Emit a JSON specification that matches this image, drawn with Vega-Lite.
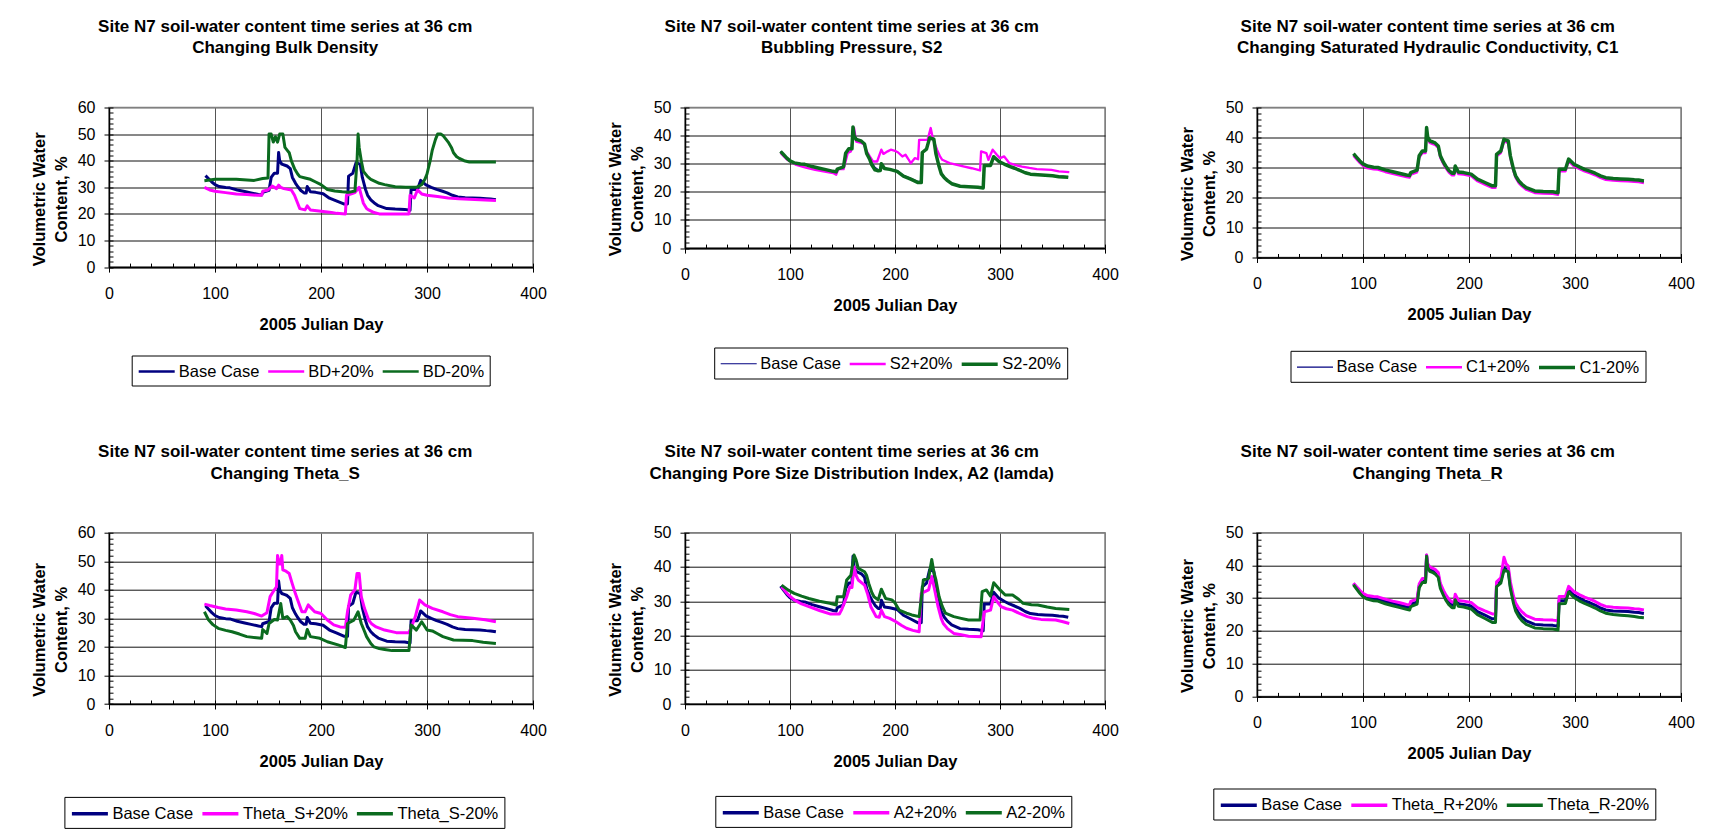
{
"$schema": "https://vega.github.io/schema/vega-lite/v6.json",
"autosize": {"type": "pad"},
"padding": {"left": 30, "top": 16.5, "right": 5, "bottom": 5},
"background": "white",
"datasets": {
"base": [
{"s":"Base Case","d":91,"v":34.4},{"s":"Base Case","d":94,"v":33.2},{"s":"Base Case","d":97,"v":32},{"s":"Base Case","d":100,"v":31},{"s":"Base Case","d":104,"v":30.3},{"s":"Base Case","d":110,"v":29.9},{"s":"Base Case","d":114,"v":29.8},{"s":"Base Case","d":121,"v":29},{"s":"Base Case","d":128,"v":28.4},{"s":"Base Case","d":134,"v":27.9},{"s":"Base Case","d":141,"v":27.3},{"s":"Base Case","d":144,"v":27.1},{"s":"Base Case","d":145,"v":28.1},{"s":"Base Case","d":151,"v":28.9},{"s":"Base Case","d":153,"v":33.7},{"s":"Base Case","d":156,"v":35.3},{"s":"Base Case","d":159,"v":35.3},{"s":"Base Case","d":160,"v":43.1},{"s":"Base Case","d":161,"v":40},{"s":"Base Case","d":163,"v":38.7},{"s":"Base Case","d":166,"v":38.3},{"s":"Base Case","d":168,"v":38},{"s":"Base Case","d":171,"v":37},{"s":"Base Case","d":173,"v":33.7},{"s":"Base Case","d":176,"v":31.5},{"s":"Base Case","d":178,"v":30.3},{"s":"Base Case","d":181,"v":28.8},{"s":"Base Case","d":184,"v":27.9},{"s":"Base Case","d":186,"v":27.9},{"s":"Base Case","d":187,"v":30.3},{"s":"Base Case","d":190,"v":28.3},{"s":"Base Case","d":195,"v":28.1},{"s":"Base Case","d":202,"v":27.6},{"s":"Base Case","d":208,"v":25.9},{"s":"Base Case","d":215,"v":24.8},{"s":"Base Case","d":222,"v":23.7},{"s":"Base Case","d":225,"v":23.7},{"s":"Base Case","d":226,"v":34.2},{"s":"Base Case","d":230,"v":35.3},{"s":"Base Case","d":233,"v":39.2},{"s":"Base Case","d":237,"v":38.7},{"s":"Base Case","d":239,"v":33.7},{"s":"Base Case","d":242,"v":29.2},{"s":"Base Case","d":244,"v":27},{"s":"Base Case","d":247,"v":25.3},{"s":"Base Case","d":250,"v":24.2},{"s":"Base Case","d":254,"v":23.1},{"s":"Base Case","d":262,"v":22},{"s":"Base Case","d":270,"v":21.8},{"s":"Base Case","d":279,"v":21.7},{"s":"Base Case","d":284,"v":21.4},{"s":"Base Case","d":285,"v":29.2},{"s":"Base Case","d":291,"v":29.2},{"s":"Base Case","d":294,"v":32.6},{"s":"Base Case","d":299,"v":30.9},{"s":"Base Case","d":304,"v":30},{"s":"Base Case","d":309,"v":29.2},{"s":"Base Case","d":314,"v":28.6},{"s":"Base Case","d":319,"v":27.9},{"s":"Base Case","d":324,"v":27},{"s":"Base Case","d":329,"v":26.4},{"s":"Base Case","d":336,"v":26.1},{"s":"Base Case","d":343,"v":26},{"s":"Base Case","d":350,"v":25.9},{"s":"Base Case","d":356,"v":25.7},{"s":"Base Case","d":360,"v":25.6},{"s":"Base Case","d":365,"v":25.3}
],
"p1": [
{"s":"BD+20%","d":90,"v":30},{"s":"BD+20%","d":95,"v":29},{"s":"BD+20%","d":100,"v":28.5},{"s":"BD+20%","d":110,"v":28},{"s":"BD+20%","d":120,"v":27.5},{"s":"BD+20%","d":130,"v":27.3},{"s":"BD+20%","d":140,"v":27},{"s":"BD+20%","d":144,"v":27},{"s":"BD+20%","d":145,"v":28.5},{"s":"BD+20%","d":150,"v":29},{"s":"BD+20%","d":154,"v":30.5},{"s":"BD+20%","d":158,"v":29.5},{"s":"BD+20%","d":160,"v":30.8},{"s":"BD+20%","d":162,"v":30},{"s":"BD+20%","d":165,"v":29.5},{"s":"BD+20%","d":172,"v":29},{"s":"BD+20%","d":175,"v":27},{"s":"BD+20%","d":178,"v":24},{"s":"BD+20%","d":180,"v":22},{"s":"BD+20%","d":185,"v":21.5},{"s":"BD+20%","d":187,"v":23},{"s":"BD+20%","d":190,"v":21.5},{"s":"BD+20%","d":200,"v":21},{"s":"BD+20%","d":210,"v":20.5},{"s":"BD+20%","d":215,"v":20.2},{"s":"BD+20%","d":223,"v":20},{"s":"BD+20%","d":224,"v":27},{"s":"BD+20%","d":228,"v":27.5},{"s":"BD+20%","d":232,"v":28},{"s":"BD+20%","d":236,"v":30},{"s":"BD+20%","d":238,"v":27},{"s":"BD+20%","d":240,"v":24},{"s":"BD+20%","d":243,"v":22},{"s":"BD+20%","d":245,"v":21.5},{"s":"BD+20%","d":250,"v":20.5},{"s":"BD+20%","d":255,"v":20},{"s":"BD+20%","d":270,"v":20},{"s":"BD+20%","d":283,"v":20},{"s":"BD+20%","d":284,"v":27},{"s":"BD+20%","d":288,"v":26},{"s":"BD+20%","d":291,"v":29},{"s":"BD+20%","d":295,"v":27.5},{"s":"BD+20%","d":300,"v":27},{"s":"BD+20%","d":310,"v":26.5},{"s":"BD+20%","d":320,"v":26},{"s":"BD+20%","d":330,"v":25.7},{"s":"BD+20%","d":340,"v":25.5},{"s":"BD+20%","d":350,"v":25.3},{"s":"BD+20%","d":365,"v":25},
{"s":"BD-20%","d":90,"v":32.5},{"s":"BD-20%","d":100,"v":33},{"s":"BD-20%","d":120,"v":33},{"s":"BD-20%","d":137,"v":32.6},{"s":"BD-20%","d":145,"v":33.3},{"s":"BD-20%","d":150,"v":33.5},{"s":"BD-20%","d":151,"v":50},{"s":"BD-20%","d":153,"v":50},{"s":"BD-20%","d":155,"v":47},{"s":"BD-20%","d":157,"v":49},{"s":"BD-20%","d":159,"v":47},{"s":"BD-20%","d":161,"v":50},{"s":"BD-20%","d":164,"v":50},{"s":"BD-20%","d":166,"v":45},{"s":"BD-20%","d":168,"v":44},{"s":"BD-20%","d":170,"v":43},{"s":"BD-20%","d":172,"v":40},{"s":"BD-20%","d":175,"v":37},{"s":"BD-20%","d":178,"v":35},{"s":"BD-20%","d":180,"v":34},{"s":"BD-20%","d":185,"v":33.5},{"s":"BD-20%","d":190,"v":33},{"s":"BD-20%","d":195,"v":32},{"s":"BD-20%","d":200,"v":31},{"s":"BD-20%","d":206,"v":29.2},{"s":"BD-20%","d":213,"v":28.6},{"s":"BD-20%","d":220,"v":28.3},{"s":"BD-20%","d":226,"v":28.1},{"s":"BD-20%","d":232,"v":28.6},{"s":"BD-20%","d":234,"v":40},{"s":"BD-20%","d":235,"v":50},{"s":"BD-20%","d":236,"v":45},{"s":"BD-20%","d":238,"v":40},{"s":"BD-20%","d":240,"v":36},{"s":"BD-20%","d":244,"v":34},{"s":"BD-20%","d":247,"v":33},{"s":"BD-20%","d":255,"v":31.5},{"s":"BD-20%","d":260,"v":31},{"s":"BD-20%","d":270,"v":30.2},{"s":"BD-20%","d":280,"v":30},{"s":"BD-20%","d":290,"v":30},{"s":"BD-20%","d":295,"v":31},{"s":"BD-20%","d":298,"v":33},{"s":"BD-20%","d":300,"v":35},{"s":"BD-20%","d":303,"v":40},{"s":"BD-20%","d":305,"v":44},{"s":"BD-20%","d":308,"v":48},{"s":"BD-20%","d":310,"v":50},{"s":"BD-20%","d":313,"v":50},{"s":"BD-20%","d":315,"v":49.5},{"s":"BD-20%","d":318,"v":48},{"s":"BD-20%","d":320,"v":47},{"s":"BD-20%","d":323,"v":45},{"s":"BD-20%","d":325,"v":43},{"s":"BD-20%","d":328,"v":41.5},{"s":"BD-20%","d":330,"v":41},{"s":"BD-20%","d":335,"v":40},{"s":"BD-20%","d":340,"v":39.5},{"s":"BD-20%","d":350,"v":39.5},{"s":"BD-20%","d":365,"v":39.5}
],
"p2": [
{"s":"S2+20%","d":91,"v":33.8},{"s":"S2+20%","d":97,"v":31.5},{"s":"S2+20%","d":106,"v":29.6},{"s":"S2+20%","d":115,"v":28.6},{"s":"S2+20%","d":124,"v":27.8},{"s":"S2+20%","d":133,"v":27.2},{"s":"S2+20%","d":141,"v":26.7},{"s":"S2+20%","d":144,"v":26.1},{"s":"S2+20%","d":146,"v":28.1},{"s":"S2+20%","d":151,"v":28.1},{"s":"S2+20%","d":155,"v":33.8},{"s":"S2+20%","d":158,"v":34.4},{"s":"S2+20%","d":161,"v":42.7},{"s":"S2+20%","d":163,"v":37.9},{"s":"S2+20%","d":167,"v":37.5},{"s":"S2+20%","d":170,"v":37.1},{"s":"S2+20%","d":173,"v":34.5},{"s":"S2+20%","d":176,"v":32.6},{"s":"S2+20%","d":179,"v":30.8},{"s":"S2+20%","d":183,"v":30.8},{"s":"S2+20%","d":187,"v":35},{"s":"S2+20%","d":189,"v":33.5},{"s":"S2+20%","d":193,"v":34.4},{"s":"S2+20%","d":196,"v":35},{"s":"S2+20%","d":200,"v":34.6},{"s":"S2+20%","d":203,"v":34},{"s":"S2+20%","d":207,"v":32.6},{"s":"S2+20%","d":210,"v":33.2},{"s":"S2+20%","d":213,"v":31.5},{"s":"S2+20%","d":215,"v":30.2},{"s":"S2+20%","d":219,"v":32},{"s":"S2+20%","d":222,"v":31.6},{"s":"S2+20%","d":223,"v":38.5},{"s":"S2+20%","d":231,"v":38.5},{"s":"S2+20%","d":234,"v":42.7},{"s":"S2+20%","d":236,"v":39.1},{"s":"S2+20%","d":238,"v":37},{"s":"S2+20%","d":240,"v":35},{"s":"S2+20%","d":243,"v":32.5},{"s":"S2+20%","d":245,"v":31.4},{"s":"S2+20%","d":252,"v":30.2},{"s":"S2+20%","d":259,"v":29.6},{"s":"S2+20%","d":266,"v":29},{"s":"S2+20%","d":273,"v":28.4},{"s":"S2+20%","d":281,"v":27.6},{"s":"S2+20%","d":282,"v":34.4},{"s":"S2+20%","d":287,"v":33.8},{"s":"S2+20%","d":289,"v":31.4},{"s":"S2+20%","d":293,"v":35},{"s":"S2+20%","d":297,"v":33.2},{"s":"S2+20%","d":300,"v":32},{"s":"S2+20%","d":304,"v":32.6},{"s":"S2+20%","d":309,"v":30.2},{"s":"S2+20%","d":315,"v":29.5},{"s":"S2+20%","d":321,"v":29},{"s":"S2+20%","d":328,"v":28.5},{"s":"S2+20%","d":335,"v":28.1},{"s":"S2+20%","d":349,"v":27.8},{"s":"S2+20%","d":356,"v":27.3},{"s":"S2+20%","d":366,"v":27},
{"s":"S2-20%","d":91,"v":34.4},{"s":"S2-20%","d":94,"v":33.2},{"s":"S2-20%","d":97,"v":32},{"s":"S2-20%","d":100,"v":31},{"s":"S2-20%","d":104,"v":30.3},{"s":"S2-20%","d":110,"v":29.9},{"s":"S2-20%","d":114,"v":29.8},{"s":"S2-20%","d":121,"v":29},{"s":"S2-20%","d":128,"v":28.4},{"s":"S2-20%","d":134,"v":27.9},{"s":"S2-20%","d":141,"v":27.3},{"s":"S2-20%","d":144,"v":27.1},{"s":"S2-20%","d":145,"v":28.1},{"s":"S2-20%","d":151,"v":28.9},{"s":"S2-20%","d":153,"v":33.7},{"s":"S2-20%","d":156,"v":35.3},{"s":"S2-20%","d":159,"v":35.3},{"s":"S2-20%","d":160,"v":43.1},{"s":"S2-20%","d":161,"v":40},{"s":"S2-20%","d":163,"v":38.7},{"s":"S2-20%","d":166,"v":38.3},{"s":"S2-20%","d":168,"v":38},{"s":"S2-20%","d":171,"v":37},{"s":"S2-20%","d":173,"v":33.7},{"s":"S2-20%","d":176,"v":31.5},{"s":"S2-20%","d":178,"v":29.5},{"s":"S2-20%","d":181,"v":27.8},{"s":"S2-20%","d":184,"v":27.5},{"s":"S2-20%","d":186,"v":27.6},{"s":"S2-20%","d":187,"v":30},{"s":"S2-20%","d":190,"v":28.3},{"s":"S2-20%","d":195,"v":28},{"s":"S2-20%","d":202,"v":27.3},{"s":"S2-20%","d":208,"v":25.6},{"s":"S2-20%","d":215,"v":24.5},{"s":"S2-20%","d":222,"v":23.3},{"s":"S2-20%","d":225,"v":23.3},{"s":"S2-20%","d":226,"v":34},{"s":"S2-20%","d":230,"v":35.2},{"s":"S2-20%","d":233,"v":39.2},{"s":"S2-20%","d":237,"v":38.7},{"s":"S2-20%","d":239,"v":33.5},{"s":"S2-20%","d":242,"v":29},{"s":"S2-20%","d":244,"v":26.5},{"s":"S2-20%","d":247,"v":25},{"s":"S2-20%","d":250,"v":24},{"s":"S2-20%","d":254,"v":22.9},{"s":"S2-20%","d":262,"v":22},{"s":"S2-20%","d":270,"v":21.8},{"s":"S2-20%","d":279,"v":21.6},{"s":"S2-20%","d":284,"v":21.4},{"s":"S2-20%","d":285,"v":29.4},{"s":"S2-20%","d":291,"v":29.4},{"s":"S2-20%","d":294,"v":32.5},{"s":"S2-20%","d":299,"v":30.8},{"s":"S2-20%","d":304,"v":29.9},{"s":"S2-20%","d":309,"v":29.1},{"s":"S2-20%","d":314,"v":28.4},{"s":"S2-20%","d":319,"v":27.6},{"s":"S2-20%","d":324,"v":26.8},{"s":"S2-20%","d":329,"v":26.3},{"s":"S2-20%","d":336,"v":26.1},{"s":"S2-20%","d":343,"v":25.9},{"s":"S2-20%","d":350,"v":25.7},{"s":"S2-20%","d":356,"v":25.4},{"s":"S2-20%","d":360,"v":25.3},{"s":"S2-20%","d":365,"v":25.2}
],
"p3": [
{"s":"C1+20%","d":91,"v":33.9},{"s":"C1+20%","d":94,"v":32.7},{"s":"C1+20%","d":97,"v":31.5},{"s":"C1+20%","d":100,"v":30.5},{"s":"C1+20%","d":104,"v":29.8},{"s":"C1+20%","d":110,"v":29.4},{"s":"C1+20%","d":114,"v":29.3},{"s":"C1+20%","d":121,"v":28.5},{"s":"C1+20%","d":128,"v":27.9},{"s":"C1+20%","d":134,"v":27.4},{"s":"C1+20%","d":141,"v":26.8},{"s":"C1+20%","d":144,"v":26.6},{"s":"C1+20%","d":145,"v":27.6},{"s":"C1+20%","d":151,"v":28.4},{"s":"C1+20%","d":153,"v":33.2},{"s":"C1+20%","d":156,"v":34.8},{"s":"C1+20%","d":159,"v":34.8},{"s":"C1+20%","d":160,"v":42.6},{"s":"C1+20%","d":161,"v":39.5},{"s":"C1+20%","d":163,"v":38.2},{"s":"C1+20%","d":166,"v":37.8},{"s":"C1+20%","d":168,"v":37.5},{"s":"C1+20%","d":171,"v":36.5},{"s":"C1+20%","d":173,"v":33.2},{"s":"C1+20%","d":176,"v":31},{"s":"C1+20%","d":178,"v":29.8},{"s":"C1+20%","d":181,"v":28.3},{"s":"C1+20%","d":184,"v":27.4},{"s":"C1+20%","d":186,"v":27.4},{"s":"C1+20%","d":187,"v":29.8},{"s":"C1+20%","d":190,"v":27.8},{"s":"C1+20%","d":195,"v":27.6},{"s":"C1+20%","d":202,"v":27.1},{"s":"C1+20%","d":208,"v":25.4},{"s":"C1+20%","d":215,"v":24.3},{"s":"C1+20%","d":222,"v":23.2},{"s":"C1+20%","d":225,"v":23.2},{"s":"C1+20%","d":226,"v":33.7},{"s":"C1+20%","d":230,"v":34.8},{"s":"C1+20%","d":233,"v":38.7},{"s":"C1+20%","d":237,"v":38.2},{"s":"C1+20%","d":239,"v":33.2},{"s":"C1+20%","d":242,"v":28.7},{"s":"C1+20%","d":244,"v":26.5},{"s":"C1+20%","d":247,"v":24.8},{"s":"C1+20%","d":250,"v":23.7},{"s":"C1+20%","d":254,"v":22.6},{"s":"C1+20%","d":262,"v":21.5},{"s":"C1+20%","d":270,"v":21.3},{"s":"C1+20%","d":279,"v":21.2},{"s":"C1+20%","d":284,"v":20.9},{"s":"C1+20%","d":285,"v":28.7},{"s":"C1+20%","d":291,"v":28.7},{"s":"C1+20%","d":294,"v":32.1},{"s":"C1+20%","d":299,"v":30.4},{"s":"C1+20%","d":304,"v":29.5},{"s":"C1+20%","d":309,"v":28.7},{"s":"C1+20%","d":314,"v":28.1},{"s":"C1+20%","d":319,"v":27.4},{"s":"C1+20%","d":324,"v":26.5},{"s":"C1+20%","d":329,"v":25.9},{"s":"C1+20%","d":336,"v":25.6},{"s":"C1+20%","d":343,"v":25.5},{"s":"C1+20%","d":350,"v":25.4},{"s":"C1+20%","d":356,"v":25.2},{"s":"C1+20%","d":360,"v":25.1},{"s":"C1+20%","d":365,"v":24.8},
{"s":"C1-20%","d":91,"v":34.6},{"s":"C1-20%","d":94,"v":33.4},{"s":"C1-20%","d":97,"v":32.2},{"s":"C1-20%","d":100,"v":31.2},{"s":"C1-20%","d":104,"v":30.5},{"s":"C1-20%","d":110,"v":30.1},{"s":"C1-20%","d":114,"v":30},{"s":"C1-20%","d":121,"v":29.2},{"s":"C1-20%","d":128,"v":28.6},{"s":"C1-20%","d":134,"v":28.1},{"s":"C1-20%","d":141,"v":27.5},{"s":"C1-20%","d":144,"v":27.3},{"s":"C1-20%","d":145,"v":28.3},{"s":"C1-20%","d":151,"v":29.1},{"s":"C1-20%","d":153,"v":33.9},{"s":"C1-20%","d":156,"v":35.5},{"s":"C1-20%","d":159,"v":35.5},{"s":"C1-20%","d":160,"v":43.3},{"s":"C1-20%","d":161,"v":40.2},{"s":"C1-20%","d":163,"v":38.9},{"s":"C1-20%","d":166,"v":38.5},{"s":"C1-20%","d":168,"v":38.2},{"s":"C1-20%","d":171,"v":37.2},{"s":"C1-20%","d":173,"v":33.9},{"s":"C1-20%","d":176,"v":31.7},{"s":"C1-20%","d":178,"v":30.5},{"s":"C1-20%","d":181,"v":29},{"s":"C1-20%","d":184,"v":28.1},{"s":"C1-20%","d":186,"v":28.1},{"s":"C1-20%","d":187,"v":30.5},{"s":"C1-20%","d":190,"v":28.5},{"s":"C1-20%","d":195,"v":28.3},{"s":"C1-20%","d":202,"v":27.8},{"s":"C1-20%","d":208,"v":26.1},{"s":"C1-20%","d":215,"v":25},{"s":"C1-20%","d":222,"v":23.9},{"s":"C1-20%","d":225,"v":23.9},{"s":"C1-20%","d":226,"v":34.4},{"s":"C1-20%","d":230,"v":35.5},{"s":"C1-20%","d":233,"v":39.4},{"s":"C1-20%","d":237,"v":38.9},{"s":"C1-20%","d":239,"v":33.9},{"s":"C1-20%","d":242,"v":29.4},{"s":"C1-20%","d":244,"v":27.2},{"s":"C1-20%","d":247,"v":25.5},{"s":"C1-20%","d":250,"v":24.4},{"s":"C1-20%","d":254,"v":23.3},{"s":"C1-20%","d":262,"v":22.2},{"s":"C1-20%","d":270,"v":22},{"s":"C1-20%","d":279,"v":21.9},{"s":"C1-20%","d":284,"v":21.6},{"s":"C1-20%","d":285,"v":29.4},{"s":"C1-20%","d":291,"v":29.4},{"s":"C1-20%","d":294,"v":32.8},{"s":"C1-20%","d":299,"v":31.1},{"s":"C1-20%","d":304,"v":30.2},{"s":"C1-20%","d":309,"v":29.4},{"s":"C1-20%","d":314,"v":28.8},{"s":"C1-20%","d":319,"v":28.1},{"s":"C1-20%","d":324,"v":27.2},{"s":"C1-20%","d":329,"v":26.6},{"s":"C1-20%","d":336,"v":26.3},{"s":"C1-20%","d":343,"v":26.2},{"s":"C1-20%","d":350,"v":26.1},{"s":"C1-20%","d":356,"v":25.9},{"s":"C1-20%","d":360,"v":25.8},{"s":"C1-20%","d":365,"v":25.5}
],
"p4": [
{"s":"Theta_S+20%","d":90,"v":35},{"s":"Theta_S+20%","d":95,"v":34.5},{"s":"Theta_S+20%","d":103,"v":33.8},{"s":"Theta_S+20%","d":110,"v":33.3},{"s":"Theta_S+20%","d":120,"v":32.9},{"s":"Theta_S+20%","d":130,"v":32.3},{"s":"Theta_S+20%","d":137,"v":31.7},{"s":"Theta_S+20%","d":144,"v":30.8},{"s":"Theta_S+20%","d":149,"v":32},{"s":"Theta_S+20%","d":152,"v":37.6},{"s":"Theta_S+20%","d":156,"v":40},{"s":"Theta_S+20%","d":158,"v":41},{"s":"Theta_S+20%","d":159,"v":52},{"s":"Theta_S+20%","d":161,"v":49},{"s":"Theta_S+20%","d":162,"v":49},{"s":"Theta_S+20%","d":163,"v":52},{"s":"Theta_S+20%","d":164,"v":47},{"s":"Theta_S+20%","d":167,"v":46.5},{"s":"Theta_S+20%","d":170,"v":45.7},{"s":"Theta_S+20%","d":173,"v":42},{"s":"Theta_S+20%","d":176,"v":38.5},{"s":"Theta_S+20%","d":178,"v":36.4},{"s":"Theta_S+20%","d":182,"v":32.3},{"s":"Theta_S+20%","d":185,"v":32.3},{"s":"Theta_S+20%","d":188,"v":34.7},{"s":"Theta_S+20%","d":191,"v":33.5},{"s":"Theta_S+20%","d":194,"v":32.3},{"s":"Theta_S+20%","d":200,"v":31.7},{"s":"Theta_S+20%","d":206,"v":29.4},{"s":"Theta_S+20%","d":212,"v":27.7},{"s":"Theta_S+20%","d":218,"v":27},{"s":"Theta_S+20%","d":223,"v":26.9},{"s":"Theta_S+20%","d":225,"v":32.3},{"s":"Theta_S+20%","d":228,"v":38.2},{"s":"Theta_S+20%","d":232,"v":40},{"s":"Theta_S+20%","d":234,"v":45.7},{"s":"Theta_S+20%","d":236,"v":45.7},{"s":"Theta_S+20%","d":238,"v":37.6},{"s":"Theta_S+20%","d":241,"v":33.5},{"s":"Theta_S+20%","d":245,"v":29.4},{"s":"Theta_S+20%","d":248,"v":28},{"s":"Theta_S+20%","d":252,"v":27},{"s":"Theta_S+20%","d":260,"v":25.9},{"s":"Theta_S+20%","d":271,"v":25},{"s":"Theta_S+20%","d":283,"v":25},{"s":"Theta_S+20%","d":286,"v":27.7},{"s":"Theta_S+20%","d":289,"v":30.6},{"s":"Theta_S+20%","d":293,"v":36.4},{"s":"Theta_S+20%","d":298,"v":34.7},{"s":"Theta_S+20%","d":305,"v":33.5},{"s":"Theta_S+20%","d":315,"v":32.3},{"s":"Theta_S+20%","d":322,"v":31.3},{"s":"Theta_S+20%","d":329,"v":30.6},{"s":"Theta_S+20%","d":343,"v":30},{"s":"Theta_S+20%","d":355,"v":29.5},{"s":"Theta_S+20%","d":365,"v":28.8},
{"s":"Theta_S-20%","d":90,"v":32.3},{"s":"Theta_S-20%","d":94,"v":29.4},{"s":"Theta_S-20%","d":98,"v":27.8},{"s":"Theta_S-20%","d":103,"v":26.5},{"s":"Theta_S-20%","d":110,"v":25.8},{"s":"Theta_S-20%","d":116,"v":25.3},{"s":"Theta_S-20%","d":123,"v":24.5},{"s":"Theta_S-20%","d":130,"v":23.6},{"s":"Theta_S-20%","d":144,"v":23},{"s":"Theta_S-20%","d":145,"v":26.1},{"s":"Theta_S-20%","d":149,"v":24.7},{"s":"Theta_S-20%","d":151,"v":28.2},{"s":"Theta_S-20%","d":156,"v":29.6},{"s":"Theta_S-20%","d":159,"v":29.4},{"s":"Theta_S-20%","d":162,"v":35.2},{"s":"Theta_S-20%","d":164,"v":30},{"s":"Theta_S-20%","d":168,"v":30.6},{"s":"Theta_S-20%","d":171,"v":29.4},{"s":"Theta_S-20%","d":174,"v":27.5},{"s":"Theta_S-20%","d":176,"v":25.3},{"s":"Theta_S-20%","d":180,"v":23},{"s":"Theta_S-20%","d":185,"v":23},{"s":"Theta_S-20%","d":187,"v":26.1},{"s":"Theta_S-20%","d":190,"v":23.6},{"s":"Theta_S-20%","d":199,"v":23},{"s":"Theta_S-20%","d":206,"v":21.8},{"s":"Theta_S-20%","d":216,"v":20.7},{"s":"Theta_S-20%","d":223,"v":19.8},{"s":"Theta_S-20%","d":225,"v":28.2},{"s":"Theta_S-20%","d":231,"v":29.4},{"s":"Theta_S-20%","d":235,"v":32.3},{"s":"Theta_S-20%","d":238,"v":28.2},{"s":"Theta_S-20%","d":241,"v":25.5},{"s":"Theta_S-20%","d":243,"v":23.6},{"s":"Theta_S-20%","d":247,"v":21.2},{"s":"Theta_S-20%","d":250,"v":20},{"s":"Theta_S-20%","d":255,"v":19.4},{"s":"Theta_S-20%","d":260,"v":19.1},{"s":"Theta_S-20%","d":267,"v":18.7},{"s":"Theta_S-20%","d":283,"v":18.7},{"s":"Theta_S-20%","d":285,"v":27.7},{"s":"Theta_S-20%","d":290,"v":25.9},{"s":"Theta_S-20%","d":295,"v":28.8},{"s":"Theta_S-20%","d":300,"v":25.9},{"s":"Theta_S-20%","d":305,"v":25.6},{"s":"Theta_S-20%","d":310,"v":24.6},{"s":"Theta_S-20%","d":315,"v":23.6},{"s":"Theta_S-20%","d":325,"v":22.4},{"s":"Theta_S-20%","d":343,"v":22.2},{"s":"Theta_S-20%","d":353,"v":21.6},{"s":"Theta_S-20%","d":365,"v":21.2}
],
"p5": [
{"s":"A2+20%","d":92,"v":34.2},{"s":"A2+20%","d":98,"v":32},{"s":"A2+20%","d":104,"v":30.4},{"s":"A2+20%","d":111,"v":29.2},{"s":"A2+20%","d":118,"v":28.4},{"s":"A2+20%","d":128,"v":27.3},{"s":"A2+20%","d":138,"v":26.3},{"s":"A2+20%","d":147,"v":26.3},{"s":"A2+20%","d":149,"v":27.4},{"s":"A2+20%","d":154,"v":31.3},{"s":"A2+20%","d":157,"v":34.2},{"s":"A2+20%","d":159,"v":34},{"s":"A2+20%","d":161,"v":40},{"s":"A2+20%","d":163,"v":37.5},{"s":"A2+20%","d":165,"v":36.2},{"s":"A2+20%","d":171,"v":34.7},{"s":"A2+20%","d":174,"v":32},{"s":"A2+20%","d":177,"v":28.4},{"s":"A2+20%","d":182,"v":25.5},{"s":"A2+20%","d":185,"v":25.3},{"s":"A2+20%","d":187,"v":27.4},{"s":"A2+20%","d":190,"v":25.5},{"s":"A2+20%","d":195,"v":25},{"s":"A2+20%","d":201,"v":24},{"s":"A2+20%","d":206,"v":23},{"s":"A2+20%","d":211,"v":22.1},{"s":"A2+20%","d":217,"v":21.5},{"s":"A2+20%","d":223,"v":21.1},{"s":"A2+20%","d":225,"v":32.3},{"s":"A2+20%","d":232,"v":33.3},{"s":"A2+20%","d":235,"v":37.2},{"s":"A2+20%","d":238,"v":33},{"s":"A2+20%","d":241,"v":28.4},{"s":"A2+20%","d":244,"v":25},{"s":"A2+20%","d":246,"v":23.5},{"s":"A2+20%","d":250,"v":22},{"s":"A2+20%","d":256,"v":20.6},{"s":"A2+20%","d":263,"v":20.2},{"s":"A2+20%","d":270,"v":19.8},{"s":"A2+20%","d":282,"v":19.6},{"s":"A2+20%","d":285,"v":26.9},{"s":"A2+20%","d":291,"v":27.4},{"s":"A2+20%","d":294,"v":31.3},{"s":"A2+20%","d":297,"v":30},{"s":"A2+20%","d":301,"v":28.4},{"s":"A2+20%","d":306,"v":27.8},{"s":"A2+20%","d":312,"v":27.4},{"s":"A2+20%","d":318,"v":26.5},{"s":"A2+20%","d":326,"v":25.5},{"s":"A2+20%","d":332,"v":25},{"s":"A2+20%","d":339,"v":24.7},{"s":"A2+20%","d":353,"v":24.5},{"s":"A2+20%","d":360,"v":24},{"s":"A2+20%","d":366,"v":23.5},
{"s":"A2-20%","d":92,"v":34.7},{"s":"A2-20%","d":98,"v":33.3},{"s":"A2-20%","d":104,"v":32.3},{"s":"A2-20%","d":111,"v":31.5},{"s":"A2-20%","d":118,"v":30.8},{"s":"A2-20%","d":128,"v":30},{"s":"A2-20%","d":138,"v":29.4},{"s":"A2-20%","d":144,"v":28.9},{"s":"A2-20%","d":145,"v":31.3},{"s":"A2-20%","d":151,"v":31.3},{"s":"A2-20%","d":154,"v":36.2},{"s":"A2-20%","d":158,"v":37.6},{"s":"A2-20%","d":161,"v":43.5},{"s":"A2-20%","d":163,"v":42},{"s":"A2-20%","d":165,"v":39.6},{"s":"A2-20%","d":171,"v":38.6},{"s":"A2-20%","d":173,"v":37.5},{"s":"A2-20%","d":175,"v":35.2},{"s":"A2-20%","d":178,"v":32.5},{"s":"A2-20%","d":180,"v":31.3},{"s":"A2-20%","d":184,"v":30.4},{"s":"A2-20%","d":187,"v":33.5},{"s":"A2-20%","d":191,"v":30.8},{"s":"A2-20%","d":197,"v":30.4},{"s":"A2-20%","d":200,"v":29.5},{"s":"A2-20%","d":204,"v":27.4},{"s":"A2-20%","d":211,"v":26.5},{"s":"A2-20%","d":216,"v":26},{"s":"A2-20%","d":223,"v":25.5},{"s":"A2-20%","d":227,"v":36.2},{"s":"A2-20%","d":232,"v":36.7},{"s":"A2-20%","d":235,"v":42.2},{"s":"A2-20%","d":237,"v":38.5},{"s":"A2-20%","d":239,"v":36.2},{"s":"A2-20%","d":242,"v":31.3},{"s":"A2-20%","d":245,"v":28.5},{"s":"A2-20%","d":248,"v":26.5},{"s":"A2-20%","d":256,"v":25.5},{"s":"A2-20%","d":263,"v":25},{"s":"A2-20%","d":270,"v":24.5},{"s":"A2-20%","d":281,"v":24.5},{"s":"A2-20%","d":283,"v":32.8},{"s":"A2-20%","d":287,"v":33.3},{"s":"A2-20%","d":291,"v":31.5},{"s":"A2-20%","d":294,"v":35.4},{"s":"A2-20%","d":300,"v":33.3},{"s":"A2-20%","d":305,"v":31.8},{"s":"A2-20%","d":312,"v":31.8},{"s":"A2-20%","d":318,"v":30.5},{"s":"A2-20%","d":322,"v":29.4},{"s":"A2-20%","d":330,"v":29},{"s":"A2-20%","d":336,"v":28.9},{"s":"A2-20%","d":345,"v":28.3},{"s":"A2-20%","d":353,"v":27.9},{"s":"A2-20%","d":366,"v":27.6}
],
"p6": [
{"s":"Theta_R+20%","d":91,"v":34.6},{"s":"Theta_R+20%","d":94,"v":33.5},{"s":"Theta_R+20%","d":97,"v":32.4},{"s":"Theta_R+20%","d":100,"v":31.5},{"s":"Theta_R+20%","d":104,"v":30.8},{"s":"Theta_R+20%","d":110,"v":30.5},{"s":"Theta_R+20%","d":114,"v":30.4},{"s":"Theta_R+20%","d":121,"v":29.7},{"s":"Theta_R+20%","d":128,"v":29.1},{"s":"Theta_R+20%","d":134,"v":28.7},{"s":"Theta_R+20%","d":141,"v":28.1},{"s":"Theta_R+20%","d":144,"v":28},{"s":"Theta_R+20%","d":145,"v":29},{"s":"Theta_R+20%","d":151,"v":29.7},{"s":"Theta_R+20%","d":153,"v":34.3},{"s":"Theta_R+20%","d":156,"v":36},{"s":"Theta_R+20%","d":159,"v":36},{"s":"Theta_R+20%","d":160,"v":43.2},{"s":"Theta_R+20%","d":161,"v":40.6},{"s":"Theta_R+20%","d":163,"v":39.5},{"s":"Theta_R+20%","d":166,"v":39.1},{"s":"Theta_R+20%","d":168,"v":38.8},{"s":"Theta_R+20%","d":171,"v":37.8},{"s":"Theta_R+20%","d":173,"v":34.5},{"s":"Theta_R+20%","d":176,"v":32.3},{"s":"Theta_R+20%","d":178,"v":31.1},{"s":"Theta_R+20%","d":181,"v":29.7},{"s":"Theta_R+20%","d":184,"v":28.8},{"s":"Theta_R+20%","d":186,"v":28.8},{"s":"Theta_R+20%","d":187,"v":31.2},{"s":"Theta_R+20%","d":190,"v":29.3},{"s":"Theta_R+20%","d":195,"v":29.1},{"s":"Theta_R+20%","d":202,"v":28.7},{"s":"Theta_R+20%","d":208,"v":27.1},{"s":"Theta_R+20%","d":215,"v":26.1},{"s":"Theta_R+20%","d":222,"v":25.2},{"s":"Theta_R+20%","d":225,"v":25.2},{"s":"Theta_R+20%","d":226,"v":35},{"s":"Theta_R+20%","d":230,"v":36.2},{"s":"Theta_R+20%","d":233,"v":42.5},{"s":"Theta_R+20%","d":235,"v":40.5},{"s":"Theta_R+20%","d":237,"v":39.8},{"s":"Theta_R+20%","d":239,"v":35},{"s":"Theta_R+20%","d":242,"v":30.6},{"s":"Theta_R+20%","d":244,"v":28.5},{"s":"Theta_R+20%","d":247,"v":26.9},{"s":"Theta_R+20%","d":250,"v":25.8},{"s":"Theta_R+20%","d":254,"v":24.7},{"s":"Theta_R+20%","d":262,"v":23.6},{"s":"Theta_R+20%","d":270,"v":23.4},{"s":"Theta_R+20%","d":279,"v":23.3},{"s":"Theta_R+20%","d":284,"v":23.1},{"s":"Theta_R+20%","d":285,"v":30.5},{"s":"Theta_R+20%","d":291,"v":30.6},{"s":"Theta_R+20%","d":294,"v":33.6},{"s":"Theta_R+20%","d":299,"v":32},{"s":"Theta_R+20%","d":304,"v":31.1},{"s":"Theta_R+20%","d":309,"v":30.3},{"s":"Theta_R+20%","d":314,"v":29.7},{"s":"Theta_R+20%","d":319,"v":29},{"s":"Theta_R+20%","d":324,"v":28.1},{"s":"Theta_R+20%","d":329,"v":27.5},{"s":"Theta_R+20%","d":336,"v":27.2},{"s":"Theta_R+20%","d":343,"v":27.1},{"s":"Theta_R+20%","d":350,"v":27},{"s":"Theta_R+20%","d":356,"v":26.8},{"s":"Theta_R+20%","d":360,"v":26.7},{"s":"Theta_R+20%","d":365,"v":26.4},
{"s":"Theta_R-20%","d":91,"v":34.1},{"s":"Theta_R-20%","d":94,"v":32.8},{"s":"Theta_R-20%","d":97,"v":31.5},{"s":"Theta_R-20%","d":100,"v":30.4},{"s":"Theta_R-20%","d":104,"v":29.7},{"s":"Theta_R-20%","d":110,"v":29.2},{"s":"Theta_R-20%","d":114,"v":29.1},{"s":"Theta_R-20%","d":121,"v":28.3},{"s":"Theta_R-20%","d":128,"v":27.7},{"s":"Theta_R-20%","d":134,"v":27.2},{"s":"Theta_R-20%","d":141,"v":26.6},{"s":"Theta_R-20%","d":144,"v":26.4},{"s":"Theta_R-20%","d":145,"v":27.4},{"s":"Theta_R-20%","d":151,"v":28.2},{"s":"Theta_R-20%","d":153,"v":33.2},{"s":"Theta_R-20%","d":156,"v":34.8},{"s":"Theta_R-20%","d":159,"v":34.8},{"s":"Theta_R-20%","d":160,"v":42.8},{"s":"Theta_R-20%","d":161,"v":39.5},{"s":"Theta_R-20%","d":163,"v":38.2},{"s":"Theta_R-20%","d":166,"v":37.8},{"s":"Theta_R-20%","d":168,"v":37.4},{"s":"Theta_R-20%","d":171,"v":36.4},{"s":"Theta_R-20%","d":173,"v":33},{"s":"Theta_R-20%","d":176,"v":30.8},{"s":"Theta_R-20%","d":178,"v":29.5},{"s":"Theta_R-20%","d":181,"v":28},{"s":"Theta_R-20%","d":184,"v":27.1},{"s":"Theta_R-20%","d":186,"v":27.1},{"s":"Theta_R-20%","d":187,"v":29.5},{"s":"Theta_R-20%","d":190,"v":27.5},{"s":"Theta_R-20%","d":195,"v":27.3},{"s":"Theta_R-20%","d":202,"v":26.7},{"s":"Theta_R-20%","d":208,"v":25},{"s":"Theta_R-20%","d":215,"v":23.8},{"s":"Theta_R-20%","d":222,"v":22.6},{"s":"Theta_R-20%","d":225,"v":22.6},{"s":"Theta_R-20%","d":226,"v":33.5},{"s":"Theta_R-20%","d":230,"v":34.6},{"s":"Theta_R-20%","d":233,"v":38.6},{"s":"Theta_R-20%","d":237,"v":38.1},{"s":"Theta_R-20%","d":239,"v":33},{"s":"Theta_R-20%","d":242,"v":28.4},{"s":"Theta_R-20%","d":244,"v":26.1},{"s":"Theta_R-20%","d":247,"v":24.3},{"s":"Theta_R-20%","d":250,"v":23.1},{"s":"Theta_R-20%","d":254,"v":22},{"s":"Theta_R-20%","d":262,"v":20.9},{"s":"Theta_R-20%","d":270,"v":20.7},{"s":"Theta_R-20%","d":279,"v":20.6},{"s":"Theta_R-20%","d":284,"v":20.3},{"s":"Theta_R-20%","d":285,"v":28.3},{"s":"Theta_R-20%","d":291,"v":28.4},{"s":"Theta_R-20%","d":294,"v":31.9},{"s":"Theta_R-20%","d":299,"v":30.2},{"s":"Theta_R-20%","d":304,"v":29.2},{"s":"Theta_R-20%","d":309,"v":28.4},{"s":"Theta_R-20%","d":314,"v":27.7},{"s":"Theta_R-20%","d":319,"v":27},{"s":"Theta_R-20%","d":324,"v":26.1},{"s":"Theta_R-20%","d":329,"v":25.4},{"s":"Theta_R-20%","d":336,"v":25},{"s":"Theta_R-20%","d":343,"v":24.8},{"s":"Theta_R-20%","d":350,"v":24.6},{"s":"Theta_R-20%","d":356,"v":24.4},{"s":"Theta_R-20%","d":360,"v":24.2},{"s":"Theta_R-20%","d":365,"v":24}
]
},
"columns": 3,
"align": "each",
"bounds": "flush",
"spacing": {"row": 265.2, "column": 152},
"resolve": {"scale": {"color": "independent", "strokeWidth": "independent"}, "legend": {"color": "independent", "strokeWidth": "independent"}},
"concat": [
{
"width": 424, "height": 159.6,
"title": {"text": ["Site N7 soil-water content time series at 36 cm", "Changing Bulk Density"], "dx": -35.8},
"layer": [
{"data": {"name": "base"}, "mark": {"type": "line", "strokeWidth": 3},
"encoding": {
"x": {"field": "d", "type": "quantitative", "scale": {"domain": [0, 400], "nice": false}, "axis": {"values": [0,100,200,300,400], "title": "2005 Julian Day", "tickSize": 5, "grid": true, "gridColor": {"condition": {"test": "datum.value == 400", "value": "#808080"}, "value": "#555555"}}},
"y": {"field": "v", "type": "quantitative", "scale": {"domain": [0, 60], "nice": false}, "axis": {"values": [0,10,20,30,40,50,60], "title": ["Volumetric Water", "Content, %"], "titleY": 91.3, "tickSize": 5, "grid": true, "gridColor": {"condition": {"test": "datum.value == 60", "value": "#808080"}, "value": "#111111"}}},
"color": {"field": "s", "type": "nominal", "scale": {"domain": ["Base Case", "BD+20%", "BD-20%"], "range": ["#000080", "#FF00FF", "#0B6B1F"]}, "legend": {"legendX": 22.7, "legendY": 248, "symbolStrokeWidth": 2.5}}
}},
{"data": {"name": "p1"}, "mark": {"type": "line", "strokeWidth": 3},
"encoding": {
"x": {"field": "d", "type": "quantitative", "axis": {"values": [0,20,40,60,80,100,120,140,160,180,200,220,240,260,280,300,320,340,360,380,400], "labels": false, "domain": false, "grid": false, "tickSize": -4, "title": null, "orient": "bottom"}},
"y": {"field": "v", "type": "quantitative", "axis": {"values": [0,2,4,6,8,10,12,14,16,18,20,22,24,26,28,30,32,34,36,38,40,42,44,46,48,50,52,54,56,58,60], "labels": false, "domain": false, "grid": false, "tickSize": -4, "title": null, "orient": "left"}},
"color": {"field": "s", "type": "nominal"}
}}
],
"resolve": {"axis": {"x": "independent", "y": "independent"}}
},
{
"width": 420, "height": 140.6,
"title": {"text": ["Site N7 soil-water content time series at 36 cm", "Bubbling Pressure, S2"], "dx": -43.3},
"layer": [
{"data": {"name": "base"}, "mark": {"type": "line"},
"encoding": {
"x": {"field": "d", "type": "quantitative", "scale": {"domain": [0, 400], "nice": false}, "axis": {"values": [0,100,200,300,400], "title": "2005 Julian Day", "tickSize": 5, "grid": true, "gridColor": {"condition": {"test": "datum.value == 400", "value": "#808080"}, "value": "#555555"}}},
"y": {"field": "v", "type": "quantitative", "scale": {"domain": [0, 50], "nice": false}, "axis": {"values": [0,10,20,30,40,50], "title": ["Volumetric Water", "Content, %"], "titleY": 81.3, "tickSize": 5, "grid": true, "gridColor": {"condition": {"test": "datum.value == 50", "value": "#808080"}, "value": "#111111"}}},
"color": {"field": "s", "type": "nominal", "scale": {"domain": ["Base Case", "S2+20%", "S2-20%"], "range": ["#000080", "#FF00FF", "#0B6B1F"]}, "legend": {"legendX": 29.2, "legendY": 240}},
"strokeWidth": {"field": "s", "type": "nominal", "scale": {"domain": ["Base Case", "S2+20%", "S2-20%"], "range": [1.2, 3.5, 3.5]}, "legend": {"legendX": 29.2, "legendY": 240}}
}},
{"data": {"name": "p2"}, "mark": {"type": "line"},
"encoding": {
"x": {"field": "d", "type": "quantitative", "axis": {"values": [0,20,40,60,80,100,120,140,160,180,200,220,240,260,280,300,320,340,360,380,400], "labels": false, "domain": false, "grid": false, "tickSize": -4, "title": null, "orient": "bottom"}},
"y": {"field": "v", "type": "quantitative", "axis": {"values": [0,2,4,6,8,10,12,14,16,18,20,22,24,26,28,30,32,34,36,38,40,42,44,46,48,50], "labels": false, "domain": false, "grid": false, "tickSize": -4, "title": null, "orient": "left"}},
"color": {"field": "s", "type": "nominal"},
"strokeWidth": {"field": "s", "type": "nominal"}
}}
],
"resolve": {"axis": {"x": "independent", "y": "independent"}}
},
{
"width": 424, "height": 150,
"title": {"text": ["Site N7 soil-water content time series at 36 cm", "Changing Saturated Hydraulic Conductivity, C1"], "dx": -41.3},
"layer": [
{"data": {"name": "base"}, "mark": {"type": "line"},
"encoding": {
"x": {"field": "d", "type": "quantitative", "scale": {"domain": [0, 400], "nice": false}, "axis": {"values": [0,100,200,300,400], "title": "2005 Julian Day", "tickSize": 5, "grid": true, "gridColor": {"condition": {"test": "datum.value == 400", "value": "#808080"}, "value": "#555555"}}},
"y": {"field": "v", "type": "quantitative", "scale": {"domain": [0, 50], "nice": false}, "axis": {"values": [0,10,20,30,40,50], "title": ["Volumetric Water", "Content, %"], "titleY": 86, "tickSize": 5, "grid": true, "gridColor": {"condition": {"test": "datum.value == 50", "value": "#808080"}, "value": "#111111"}}},
"color": {"field": "s", "type": "nominal", "scale": {"domain": ["Base Case", "C1+20%", "C1-20%"], "range": ["#000080", "#FF00FF", "#0B6B1F"]}, "legend": {"legendX": 33.5, "legendY": 243.3}},
"strokeWidth": {"field": "s", "type": "nominal", "scale": {"domain": ["Base Case", "C1+20%", "C1-20%"], "range": [1.2, 3.5, 3.5]}, "legend": {"legendX": 33.5, "legendY": 243.3}}
}},
{"data": {"name": "p3"}, "mark": {"type": "line"},
"encoding": {
"x": {"field": "d", "type": "quantitative", "axis": {"values": [0,20,40,60,80,100,120,140,160,180,200,220,240,260,280,300,320,340,360,380,400], "labels": false, "domain": false, "grid": false, "tickSize": -4, "title": null, "orient": "bottom"}},
"y": {"field": "v", "type": "quantitative", "axis": {"values": [0,2,4,6,8,10,12,14,16,18,20,22,24,26,28,30,32,34,36,38,40,42,44,46,48,50], "labels": false, "domain": false, "grid": false, "tickSize": -4, "title": null, "orient": "left"}},
"color": {"field": "s", "type": "nominal"},
"strokeWidth": {"field": "s", "type": "nominal"}
}}
],
"resolve": {"axis": {"x": "independent", "y": "independent"}}
},
{
"width": 424, "height": 171.3,
"title": {"text": ["Site N7 soil-water content time series at 36 cm", "Changing Theta_S"], "dx": -35.8},
"layer": [
{"data": {"name": "base"}, "mark": {"type": "line", "strokeWidth": 3},
"encoding": {
"x": {"field": "d", "type": "quantitative", "scale": {"domain": [0, 400], "nice": false}, "axis": {"values": [0,100,200,300,400], "title": "2005 Julian Day", "tickSize": 5, "grid": true, "gridColor": {"condition": {"test": "datum.value == 400", "value": "#808080"}, "value": "#555555"}}},
"y": {"field": "v", "type": "quantitative", "scale": {"domain": [0, 60], "nice": false}, "axis": {"values": [0,10,20,30,40,50,60], "title": ["Volumetric Water", "Content, %"], "titleY": 96.7, "tickSize": 5, "grid": true, "gridColor": {"condition": {"test": "datum.value == 60", "value": "#808080"}, "value": "#111111"}}},
"color": {"field": "s", "type": "nominal", "scale": {"domain": ["Base Case", "Theta_S+20%", "Theta_S-20%"], "range": ["#000080", "#FF00FF", "#0B6B1F"]}, "legend": {"legendX": -44.6, "legendY": 264.2, "symbolStrokeWidth": 3.5}}
}},
{"data": {"name": "p4"}, "mark": {"type": "line", "strokeWidth": 3},
"encoding": {
"x": {"field": "d", "type": "quantitative", "axis": {"values": [0,20,40,60,80,100,120,140,160,180,200,220,240,260,280,300,320,340,360,380,400], "labels": false, "domain": false, "grid": false, "tickSize": -4, "title": null, "orient": "bottom"}},
"y": {"field": "v", "type": "quantitative", "axis": {"values": [0,2,4,6,8,10,12,14,16,18,20,22,24,26,28,30,32,34,36,38,40,42,44,46,48,50,52,54,56,58,60], "labels": false, "domain": false, "grid": false, "tickSize": -4, "title": null, "orient": "left"}},
"color": {"field": "s", "type": "nominal"}
}}
],
"resolve": {"axis": {"x": "independent", "y": "independent"}}
},
{
"width": 420, "height": 171.3,
"title": {"text": ["Site N7 soil-water content time series at 36 cm", "Changing Pore Size Distribution Index, A2 (lamda)"], "dx": -43.3},
"layer": [
{"data": {"name": "base"}, "mark": {"type": "line", "strokeWidth": 3},
"encoding": {
"x": {"field": "d", "type": "quantitative", "scale": {"domain": [0, 400], "nice": false}, "axis": {"values": [0,100,200,300,400], "title": "2005 Julian Day", "tickSize": 5, "grid": true, "gridColor": {"condition": {"test": "datum.value == 400", "value": "#808080"}, "value": "#555555"}}},
"y": {"field": "v", "type": "quantitative", "scale": {"domain": [0, 50], "nice": false}, "axis": {"values": [0,10,20,30,40,50], "title": ["Volumetric Water", "Content, %"], "titleY": 96.7, "tickSize": 5, "grid": true, "gridColor": {"condition": {"test": "datum.value == 50", "value": "#808080"}, "value": "#111111"}}},
"color": {"field": "s", "type": "nominal", "scale": {"domain": ["Base Case", "A2+20%", "A2-20%"], "range": ["#000080", "#FF00FF", "#0B6B1F"]}, "legend": {"legendX": 30.3, "legendY": 263.2, "symbolStrokeWidth": 3.5}}
}},
{"data": {"name": "p5"}, "mark": {"type": "line", "strokeWidth": 3},
"encoding": {
"x": {"field": "d", "type": "quantitative", "axis": {"values": [0,20,40,60,80,100,120,140,160,180,200,220,240,260,280,300,320,340,360,380,400], "labels": false, "domain": false, "grid": false, "tickSize": -4, "title": null, "orient": "bottom"}},
"y": {"field": "v", "type": "quantitative", "axis": {"values": [0,2,4,6,8,10,12,14,16,18,20,22,24,26,28,30,32,34,36,38,40,42,44,46,48,50], "labels": false, "domain": false, "grid": false, "tickSize": -4, "title": null, "orient": "left"}},
"color": {"field": "s", "type": "nominal"}
}}
],
"resolve": {"axis": {"x": "independent", "y": "independent"}}
},
{
"width": 424, "height": 163.7,
"title": {"text": ["Site N7 soil-water content time series at 36 cm", "Changing Theta_R"], "dx": -41.3},
"layer": [
{"data": {"name": "base"}, "mark": {"type": "line", "strokeWidth": 3},
"encoding": {
"x": {"field": "d", "type": "quantitative", "scale": {"domain": [0, 400], "nice": false}, "axis": {"values": [0,100,200,300,400], "title": "2005 Julian Day", "tickSize": 5, "grid": true, "gridColor": {"condition": {"test": "datum.value == 400", "value": "#808080"}, "value": "#555555"}}},
"y": {"field": "v", "type": "quantitative", "scale": {"domain": [0, 50], "nice": false}, "axis": {"values": [0,10,20,30,40,50], "title": ["Volumetric Water", "Content, %"], "titleY": 92.9, "tickSize": 5, "grid": true, "gridColor": {"condition": {"test": "datum.value == 50", "value": "#808080"}, "value": "#111111"}}},
"color": {"field": "s", "type": "nominal", "scale": {"domain": ["Base Case", "Theta_R+20%", "Theta_R-20%"], "range": ["#000080", "#FF00FF", "#0B6B1F"]}, "legend": {"legendX": -43.7, "legendY": 255.8, "symbolStrokeWidth": 3.5}}
}},
{"data": {"name": "p6"}, "mark": {"type": "line", "strokeWidth": 3},
"encoding": {
"x": {"field": "d", "type": "quantitative", "axis": {"values": [0,20,40,60,80,100,120,140,160,180,200,220,240,260,280,300,320,340,360,380,400], "labels": false, "domain": false, "grid": false, "tickSize": -4, "title": null, "orient": "bottom"}},
"y": {"field": "v", "type": "quantitative", "axis": {"values": [0,2,4,6,8,10,12,14,16,18,20,22,24,26,28,30,32,34,36,38,40,42,44,46,48,50], "labels": false, "domain": false, "grid": false, "tickSize": -4, "title": null, "orient": "left"}},
"color": {"field": "s", "type": "nominal"}
}}
],
"resolve": {"axis": {"x": "independent", "y": "independent"}}
}
],
"config": {
"font": "Liberation Sans",
"view": {"stroke": "#808080", "strokeWidth": 1.5},
"line": {"strokeJoin": "round"},
"axis": {"labelFont": "Liberation Sans", "labelFontSize": 16, "labelColor": "#000000", "titleFont": "Liberation Sans", "titleFontSize": 16.5, "titleFontWeight": "bold", "titleColor": "#000000", "domainColor": "#000000", "domainWidth": 1.5, "tickColor": "#000000", "tickWidth": 1, "gridWidth": 1},
"axisX": {"labelPadding": 13, "titlePadding": 15, "labelAngle": 0, "labelFlush": false},
"axisY": {"labelPadding": 9, "titlePadding": 8, "titleLineHeight": 21.5},
"title": {"font": "Liberation Sans", "fontSize": 17, "fontWeight": "bold", "color": "#000000", "lineHeight": 21.7, "anchor": "middle", "frame": "group", "offset": 42},
"legend": {"orient": "none", "direction": "horizontal", "title": null, "strokeColor": "#000000", "fillColor": "#FFFFFF", "padding": 5.5, "symbolType": "M-1,0H3", "symbolSize": 324, "symbolStrokeWidth": 3.5, "labelOffset": 20.5, "columnPadding": 6.5, "labelFont": "Liberation Sans", "labelFontSize": 16.5, "labelColor": "#000000", "labelLimit": 0}
}
}
